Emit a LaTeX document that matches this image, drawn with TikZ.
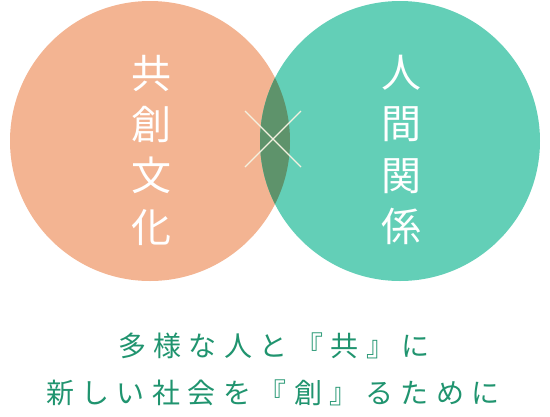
\documentclass[tikz,border=0pt]{standalone}
\usepackage{fontspec}
\newfontfamily\jpfont{Noto Sans CJK JP}
\definecolor{salmonc}{HTML}{F3B492}
\definecolor{mintc}{HTML}{63CFB7}
\definecolor{overlapc}{HTML}{5E936B}
\definecolor{crossc}{HTML}{F4F1E0}
\definecolor{greentext}{HTML}{20946F}
\newcommand\lspacedaux[1]{\ifx\relax#1\else#1\kern7.5pt\expandafter\lspacedaux\fi}
\newcommand\lspaced[1]{\lspacedaux#1\relax\kern-7.5pt}
\tikzset{
  coltext/.style={font=\jpfont\fontsize{40}{51.3}\selectfont, text=white, align=center, inner sep=0pt},
  captext/.style={font=\jpfont\fontsize{28}{34}\selectfont, text=greentext, inner sep=0pt},
  crossline/.style={draw=crossc, line width=1.1pt}
}
\begin{document}
\begin{tikzpicture}[x=1pt,y=-1pt]
\useasboundingbox (0,0) rectangle (550,416);
\fill[salmonc] (150,141) circle (140pt);
\fill[mintc] (400,141) circle (140pt);
\begin{scope}
  \clip (150,141) circle (140pt);
  \fill[overlapc] (400,141) circle (140pt);
\end{scope}
\coordinate (xa) at (245,111);
\coordinate (xb) at (301,167);
\coordinate (xc) at (301,111);
\coordinate (xd) at (245,167);
\draw[crossline] (xa) -- (xb);
\draw[crossline] (xc) -- (xd);
\node[coltext] (left) at (151,150) {共\\創\\文\\化};
\node[coltext] (right) at (401,150) {人\\間\\関\\係};
\node[captext] (line1) at (274,346) {\lspaced{多様な人と『共』に}};
\node[captext] (line2) at (273,393) {\lspaced{新しい社会を『創』るために}};
\end{tikzpicture}
\end{document}
